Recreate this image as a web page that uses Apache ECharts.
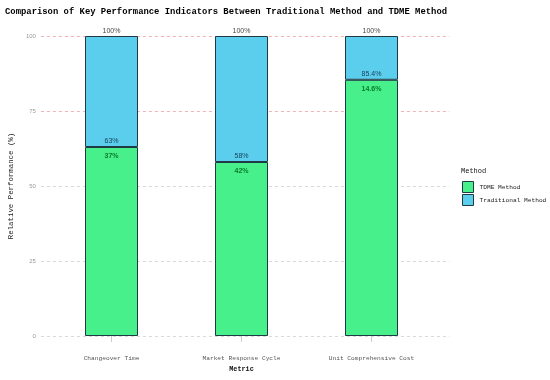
<!DOCTYPE html>
<html>
<head>
<meta charset="utf-8">
<script src="https://cdn.jsdelivr.net/npm/echarts@6/dist/echarts.min.js"></script>
<style>html,body{margin:0;padding:0;background:#fff}#c{width:550px;height:380px}</style>
</head>
<body>
<div id="c"></div>
<script>
const categories = ['Changeover Time', 'Market Response Cycle', 'Unit Comprehensive Cost'];
const tdmeValues = [63, 58, 85.4];
const traditionalValues = [37, 42, 14.6];
const totalValues = [100, 100, 100];
const tdmeLabels = ['63%', '58%', '85.4%'];
const reductionLabels = ['37%', '42%', '14.6%'];
const totalLabels = ['100%', '100%', '100%'];

const MONO = '"Liberation Mono", "DejaVu Sans Mono", monospace';
const SANS = '"Liberation Sans", Arial, sans-serif';

const chart = echarts.init(document.getElementById('c'), null, {renderer: 'canvas'});
chart.setOption({
  animation: false,
  title: {
    text: 'Comparison of Key Performance Indicators Between Traditional Method and TDME Method',
    left: 5, top: 7, padding: 0,
    textStyle: {fontFamily: MONO, fontSize: 8.9, fontWeight: 'bold', color: '#000'}
  },
  grid: [
    {left: 33.5, right: 100.5, top: 36, bottom: 44},
    {left: 46.5, right: 113.5, top: 36, bottom: 44}
  ],
  legend: {
    data: ['TDME Method', 'Traditional Method'],
    orient: 'vertical', left: 462, top: 181, padding: 0,
    icon: 'rect', itemWidth: 11, itemHeight: 11, itemGap: 1,
    itemStyle: {borderColor: '#1F3A45', borderWidth: 1},
    textStyle: {fontFamily: MONO, fontSize: 6.2, color: '#222', padding: [0, 0, 0, 1]}
  },
  graphic: [{
    type: 'text', left: 461, top: 168,
    style: {text: 'Method', font: '7px ' + MONO, fill: '#111'}
  }],
  xAxis: [
    {
      type: 'value', gridIndex: 0, min: 0, max: 1,
      show: false
    },
    {
      type: 'category', gridIndex: 1, data: categories, offset: 5,
      name: 'Metric', nameLocation: 'middle', nameGap: 24,
      nameTextStyle: {fontFamily: MONO, fontSize: 6.8, fontWeight: 'bold', color: '#111'},
      axisLine: {show: false},
      splitLine: {show: false},
      axisTick: {show: true, alignWithLabel: true, length: 6, lineStyle: {color: '#ccc'}},
      axisLabel: {margin: 14, fontFamily: MONO, fontSize: 6.2, color: '#555'}
    }
  ],
  yAxis: [
    {
      type: 'value', gridIndex: 0, min: 0, max: 100, interval: 25,
      name: 'Relative Performance (%)', nameLocation: 'middle', nameGap: 20,
      nameTextStyle: {fontFamily: MONO, fontSize: 7.4, color: '#222'},
      axisLine: {show: false}, axisTick: {show: false},
      axisLabel: {margin: 5, fontFamily: SANS, fontSize: 6, color: '#999'},
      splitLine: {lineStyle: {color: ['#d8d8d8', '#d8d8d8', '#d8d8d8', '#f2b4b4', '#f2b4b4'], type: [3, 3], width: 1}}
    },
    {
      type: 'value', gridIndex: 1, min: 0, max: 100, interval: 25,
      show: false, splitLine: {show: false}
    }
  ],
  series: [
    {
      name: 'TDME Method', type: 'bar', stack: 'm', barWidth: 53,
      xAxisIndex: 1, yAxisIndex: 1,
      data: tdmeValues,
      itemStyle: {color: '#47F08B', borderColor: '#1F3A45', borderWidth: 1},
      label: {
        show: true, position: 'insideTop', distance: 6,
        fontFamily: SANS, fontSize: 7, fontWeight: 'bold', color: '#0B7A2D',
        formatter: p => reductionLabels[p.dataIndex]
      }
    },
    {
      name: 'Traditional Method', type: 'bar', stack: 'm', barWidth: 53,
      xAxisIndex: 1, yAxisIndex: 1,
      data: traditionalValues,
      itemStyle: {color: '#5ACEEC', borderColor: '#1F3A45', borderWidth: 1},
      label: {
        show: true, position: 'insideBottom', distance: 2,
        fontFamily: SANS, fontSize: 7, color: '#173F5C',
        formatter: p => tdmeLabels[p.dataIndex]
      }
    },
    {
      name: 'total', type: 'scatter', symbolSize: 0,
      xAxisIndex: 1, yAxisIndex: 1,
      data: totalValues,
      label: {
        show: true, position: 'top', distance: 1,
        fontFamily: SANS, fontSize: 7, color: '#111',
        formatter: p => totalLabels[p.dataIndex]
      }
    }
  ]
});
</script>
</body>
</html>
